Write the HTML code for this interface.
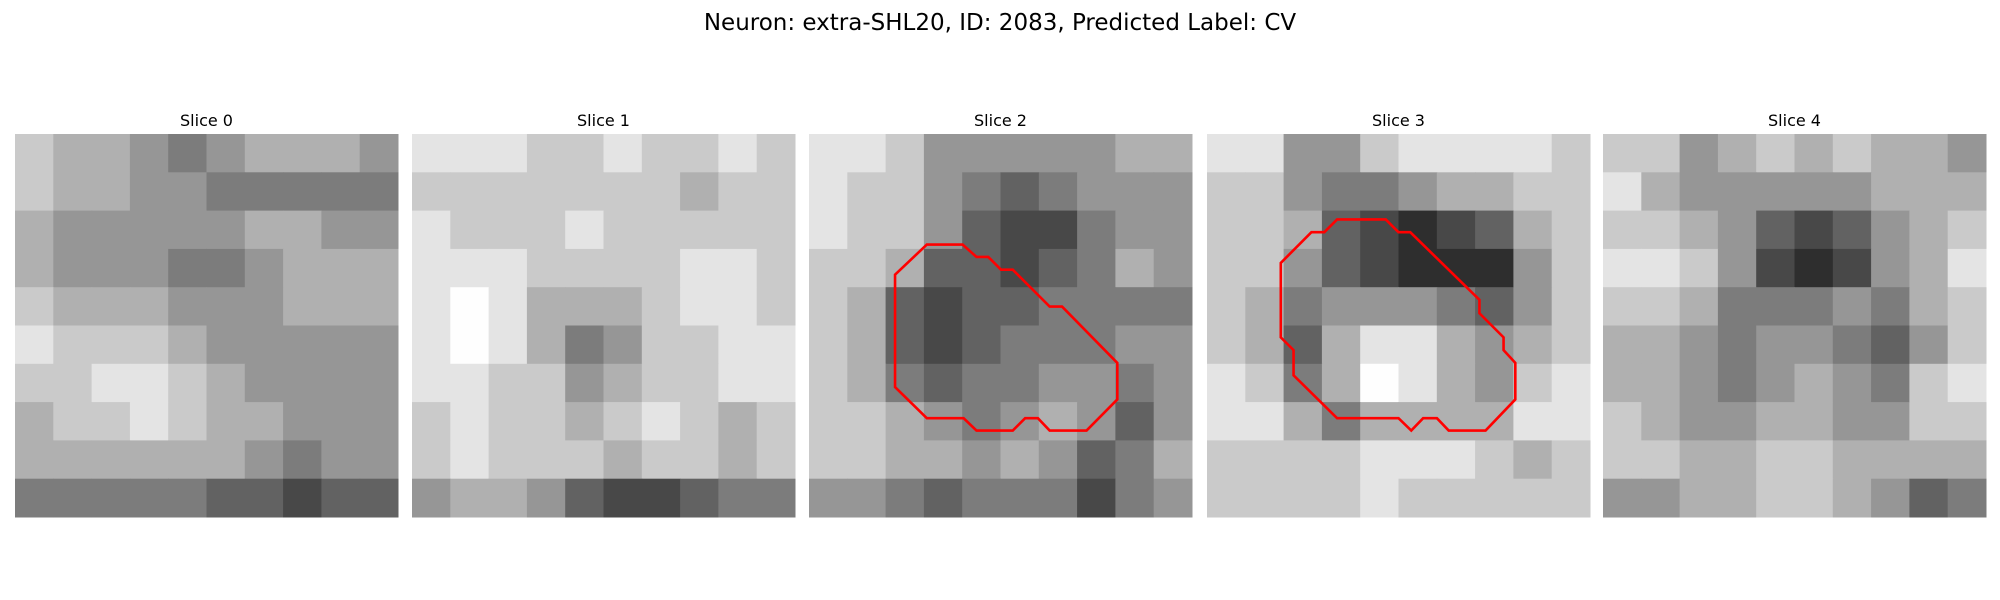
<!DOCTYPE html>
<html><head><meta charset="utf-8">
<style>
body{margin:0;background:#fff;}
svg{display:block;}
text{font-family:"DejaVu Sans","Liberation Sans",sans-serif;fill:#000;}
</style></head>
<body>
<svg id="fig" width="2000" height="600" viewBox="0 0 2000 600" xmlns="http://www.w3.org/2000/svg">
<rect width="2000" height="600" fill="#fff"/>
<text x="1000" y="30" text-anchor="middle" font-size="23">Neuron: extra-SHL20, ID: 2083, Predicted Label: CV</text>
</svg>
<script>
// Slice titles
const sliceTitles = ["Slice 0","Slice 1","Slice 2","Slice 3","Slice 4"];
// Coarse intensity grids (10x10 per slice, 0=black .. 9=white)
const slice0 = [
[7,6,6,5,4,5,6,6,6,5],[7,6,6,5,5,4,4,4,4,4],[6,5,5,5,5,5,6,6,5,5],[6,5,5,5,4,4,5,6,6,6],
[7,6,6,6,5,5,5,6,6,6],[8,7,7,7,6,5,5,5,5,5],[7,7,8,8,7,6,5,5,5,5],[6,7,7,8,7,6,6,5,5,5],
[6,6,6,6,6,6,5,4,5,5],[4,4,4,4,4,3,3,2,3,3]];
const slice1 = [
[8,8,8,7,7,8,7,7,8,7],[7,7,7,7,7,7,7,6,7,7],[8,7,7,7,8,7,7,7,7,7],[8,8,8,7,7,7,7,8,8,7],
[8,9,8,6,6,6,7,8,8,7],[8,9,8,6,4,5,7,7,8,8],[8,8,7,7,5,6,7,7,8,8],[7,8,7,7,6,7,8,7,6,7],
[7,8,7,7,7,6,7,7,6,7],[5,6,6,5,3,2,2,3,4,4]];
const slice2 = [
[8,8,7,5,5,5,5,5,6,6],[8,7,7,5,4,3,4,5,5,5],[8,7,7,5,3,2,2,4,5,5],[7,7,6,3,3,2,3,4,6,5],
[7,6,3,2,3,3,4,4,4,4],[7,6,3,2,3,4,4,4,5,5],[7,6,4,3,4,4,5,5,4,5],[7,7,6,5,4,5,6,5,3,5],
[7,7,6,6,5,6,5,3,4,6],[5,5,4,3,4,4,4,2,4,5]];
const slice3 = [
[8,8,5,5,7,8,8,8,8,7],[7,7,5,4,4,5,6,6,7,7],[7,7,6,3,2,1,2,3,6,7],[7,7,5,3,2,1,1,1,5,7],
[7,6,4,5,5,5,4,3,5,7],[7,6,3,6,8,8,6,5,6,7],[8,7,4,6,9,8,6,5,7,8],[8,8,6,4,6,6,6,6,8,8],
[7,7,7,7,8,8,8,7,6,7],[7,7,7,7,8,7,7,7,7,7]];
const slice4 = [
[7,7,5,6,7,6,7,6,6,5],[8,6,5,5,5,5,5,6,6,6],[7,7,6,5,3,2,3,5,6,7],[8,8,7,5,2,1,2,5,6,8],
[7,7,6,4,4,4,5,4,6,7],[6,6,5,4,5,5,4,3,5,7],[6,6,5,4,5,6,5,4,7,8],[7,6,5,5,6,6,5,5,7,7],
[7,7,6,6,7,7,6,6,6,6],[5,5,6,6,7,7,6,5,3,4]];
const sliceGrids = [slice0, slice1, slice2, slice3, slice4];
// Contour vertices in 30x30 pixel-grid units
const contour2X = [9.23,12.03,13.12,14.04,15.04,15.96,18.85,19.82,24.15,24.15,21.74,18.85,17.93,16.93,15.96,13.12,12.11,9.23,6.74,6.74];
const contour2Y = [8.66,8.66,9.63,9.63,10.63,10.63,13.52,13.52,17.93,20.79,23.23,23.23,22.26,22.26,23.23,23.23,22.26,22.26,19.82,11.02];
const contour3X = [10.19,14.0,15.0,15.92,21.34,21.34,23.23,23.23,24.15,24.15,21.82,18.93,18.01,16.93,16.0,15.0,10.19,6.78,6.78,5.78,5.78,8.18,9.19];
const contour3Y = [6.69,6.69,7.69,7.69,12.99,14.04,15.93,16.93,17.93,20.79,23.23,23.23,22.26,22.26,23.23,22.26,22.26,18.9,16.93,15.93,10.1,7.69,7.69];
const contours = {2:[contour2X,contour2Y],3:[contour3X,contour3Y]};

const NS="http://www.w3.org/2000/svg";
const svg=document.getElementById('fig');
const panelX=[15,412,809,1207,1603], panelY=134, panelSize=383, gridN=30;
function gx(p,v){return panelX[p]+v*panelSize/gridN;}
function gy(v){return panelY+v*panelSize/gridN;}
function gray(v){const g=Math.round(20+v*26);return `rgb(${g},${g},${g})`;}

sliceGrids.forEach((grid,p)=>{
  const g=document.createElementNS(NS,'g');
  
  
  svg.appendChild(g);
  const t=document.createElementNS(NS,'text');
  t.setAttribute('x',panelX[p]+panelSize/2);t.setAttribute('y',126);
  t.setAttribute('text-anchor','middle');t.setAttribute('font-size','16');
  t.textContent=sliceTitles[p];
  
  
  g.appendChild(t);
  const n=grid.length, step=gridN/n;
  grid.forEach((row,r)=>row.forEach((v,c)=>{
    const rc=document.createElementNS(NS,'rect');
    const x0=gx(p,c*step), y0=gy(r*step);
    rc.setAttribute('x',x0);rc.setAttribute('y',y0);
    rc.setAttribute('width',gx(p,(c+1)*step)-x0+0.5);
    rc.setAttribute('height',gy((r+1)*step)-y0+0.5);
    rc.setAttribute('fill',gray(v));
    
    
    g.appendChild(rc);
  }));
  if(contours[p]){
    const [xs,ys]=contours[p];
    const pl=document.createElementNS(NS,'polygon');
    pl.setAttribute('points',xs.map((x,i)=>gx(p,x)+','+gy(ys[i])).join(' '));
    pl.setAttribute('fill','none');pl.setAttribute('stroke','#f00');pl.setAttribute('stroke-width','2.6');
    
    
    g.appendChild(pl);
  }
});
</script>
</body></html>
